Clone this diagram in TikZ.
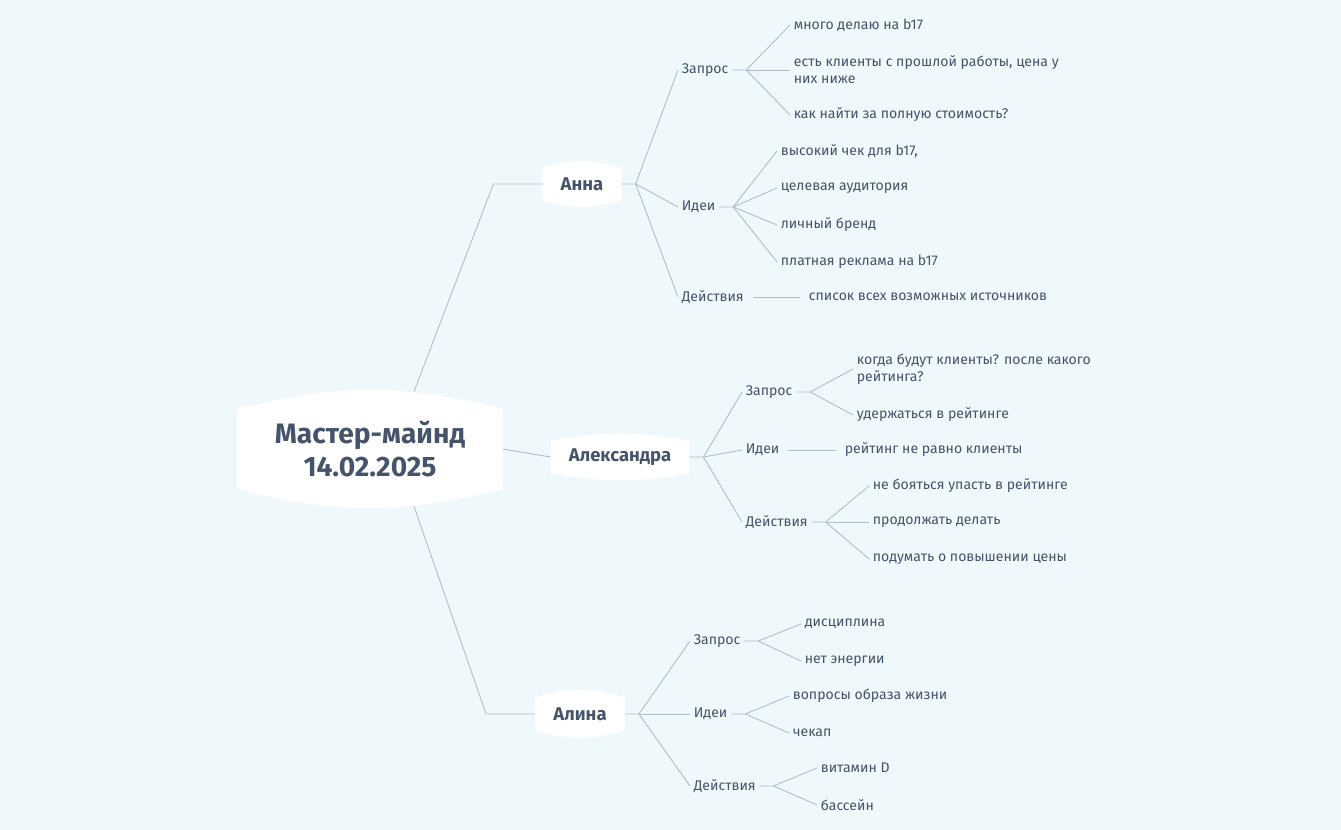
\documentclass[tikz,border=0pt]{standalone}
\usepackage{fontspec}
\setmainfont{Fira Sans}
\usetikzlibrary{backgrounds}
\definecolor{bgc}{HTML}{EFF8FA}
\definecolor{ink}{HTML}{46546B}
\definecolor{linec}{HTML}{AEBECB}
\newcommand\blobfill[2]{\fill[white] (#1.north west) to[bend left=#2] (#1.north east) -- (#1.south east) to[bend left=#2] (#1.south west) -- cycle;}

\begin{document}
\begin{tikzpicture}[x=0.02cm,y=-0.02cm]
      \tikzset{edge/.style = {draw=linec, line width=0.5pt}}
      \tikzset{leaf/.style = {anchor=west, text=ink, inner sep=2pt, align=left, font=\fontsize{8}{9.7}\selectfont}}
      \tikzset{topic/.style = {text=ink, inner ysep=0pt, inner xsep=0.36cm, minimum height=0.64cm, font=\fontsize{10.5}{12}\selectfont\bfseries}}
      \useasboundingbox (0,0) rectangle (1341,830);
      % central node
      \node[text=ink, align=center, minimum width=5.3cm, minimum height=1.6cm, font=\fontsize{16}{19}\selectfont\bfseries] (root) at (370,449) {Мастер-майнд\\14.02.2025};
      \node[topic] (anna) at (582,184) {Анна};
      \node[topic] (alex) at (620,457) {Александра};
      \node[topic] (alina) at (580,714) {Алина};

      % Анна
      \node[leaf] (a1) at (678,70) {Запрос};
      \node[leaf] (a2) at (678,207) {Идеи};
      \node[leaf] (a3) at (678,297) {Действия};
      \node[leaf] (a11) at (790,25) {много делаю на b17};
      \node[leaf] (a12) at (790,70) {есть клиенты с прошлой работы, цена у\\них ниже};
      \node[leaf] (a13) at (790,115) {как найти за полную стоимость?};
      \node[leaf] (a21) at (777,151) {высокий чек для b17,};
      \node[leaf] (a22) at (777,188) {целевая аудитория};
      \node[leaf] (a23) at (777,225) {личный бренд};
      \node[leaf] (a24) at (777,262) {платная реклама на b17};
      \node[leaf] (a31) at (805,297) {список всех возможных источников};

      % Александра
      \node[leaf] (b1) at (742,392) {Запрос};
      \node[leaf] (b2) at (742,450) {Идеи};
      \node[leaf] (b3) at (742,522) {Действия};
      \node[leaf] (b11) at (853,369) {когда будут клиенты? после какого\\рейтинга?};
      \node[leaf] (b12) at (853,415) {удержаться в рейтинге};
      \node[leaf] (b21) at (841,450) {рейтинг не равно клиенты};
      \node[leaf] (b31) at (869,486) {не бояться упасть в рейтинге};
      \node[leaf] (b32) at (869,522) {продолжать делать};
      \node[leaf] (b33) at (869,559) {подумать о повышении цены};

      % Алина
      \node[leaf] (c1) at (690,641) {Запрос};
      \node[leaf] (c2) at (690,714) {Идеи};
      \node[leaf] (c3) at (690,786) {Действия};
      \node[leaf] (c11) at (801,624) {дисциплина};
      \node[leaf] (c12) at (801,661) {нет энергии};
      \node[leaf] (c21) at (789,696) {вопросы образа жизни};
      \node[leaf] (c22) at (789,733) {чекап};
      \node[leaf] (c31) at (817,768) {витамин D};
      \node[leaf] (c32) at (817,805) {бассейн};

      \begin{scope}[on background layer]
        \fill[bgc] (0,0) rectangle (1341,830);
        \blobfill{root}{14}
        \blobfill{anna}{17}
        \blobfill{alex}{10}
        \blobfill{alina}{17}
      \end{scope}

      \draw[edge] ([shift={(44,-17)}]root.north) -- ([xshift=-0.98cm]anna.west) -- (anna.west);
      \draw[edge] (root.east) -- (alex.west);
      \draw[edge] ([shift={(44,17)}]root.south) -- ([xshift=-0.98cm]alina.west) -- (alina.west);

      \draw[edge] (anna.east) -- ++(14,0) coordinate (ah) -- (a1.west);
      \draw[edge] (ah) -- (a2.west);
      \draw[edge] (ah) -- (a3.west);
      \draw[edge] (a1.east) -- ++(14,0) coordinate (a1h) -- (a11.west);
      \draw[edge] (a1h) -- (a12.west);
      \draw[edge] (a1h) -- (a13.west);
      \draw[edge] (a2.east) -- ++(14,0) coordinate (a2h) -- (a21.west);
      \draw[edge] (a2h) -- (a22.west);
      \draw[edge] (a2h) -- (a23.west);
      \draw[edge] (a2h) -- (a24.west);
      \draw[edge] ([xshift=0.1cm]a3.east) -- ([xshift=-0.1cm]a31.west);

      \draw[edge] (alex.east) -- ++(14,0) coordinate (bh) -- (b1.west);
      \draw[edge] (bh) -- (b2.west);
      \draw[edge] (bh) -- (b3.west);
      \draw[edge] (b1.east) -- ++(14,0) coordinate (b1h) -- (b11.west);
      \draw[edge] (b1h) -- (b12.west);
      \draw[edge] ([xshift=0.1cm]b2.east) -- ([xshift=-0.1cm]b21.west);
      \draw[edge] (b3.east) -- ++(14,0) coordinate (b3h) -- (b31.west);
      \draw[edge] (b3h) -- (b32.west);
      \draw[edge] (b3h) -- (b33.west);

      \draw[edge] (alina.east) -- ++(14,0) coordinate (ch) -- (c1.west);
      \draw[edge] (ch) -- (c2.west);
      \draw[edge] (ch) -- (c3.west);
      \draw[edge] (c1.east) -- ++(14,0) coordinate (c1h) -- (c11.west);
      \draw[edge] (c1h) -- (c12.west);
      \draw[edge] (c2.east) -- ++(14,0) coordinate (c2h) -- (c21.west);
      \draw[edge] (c2h) -- (c22.west);
      \draw[edge] (c3.east) -- ++(14,0) coordinate (c3h) -- (c31.west);
      \draw[edge] (c3h) -- (c32.west);
    \end{tikzpicture}
\end{document}
